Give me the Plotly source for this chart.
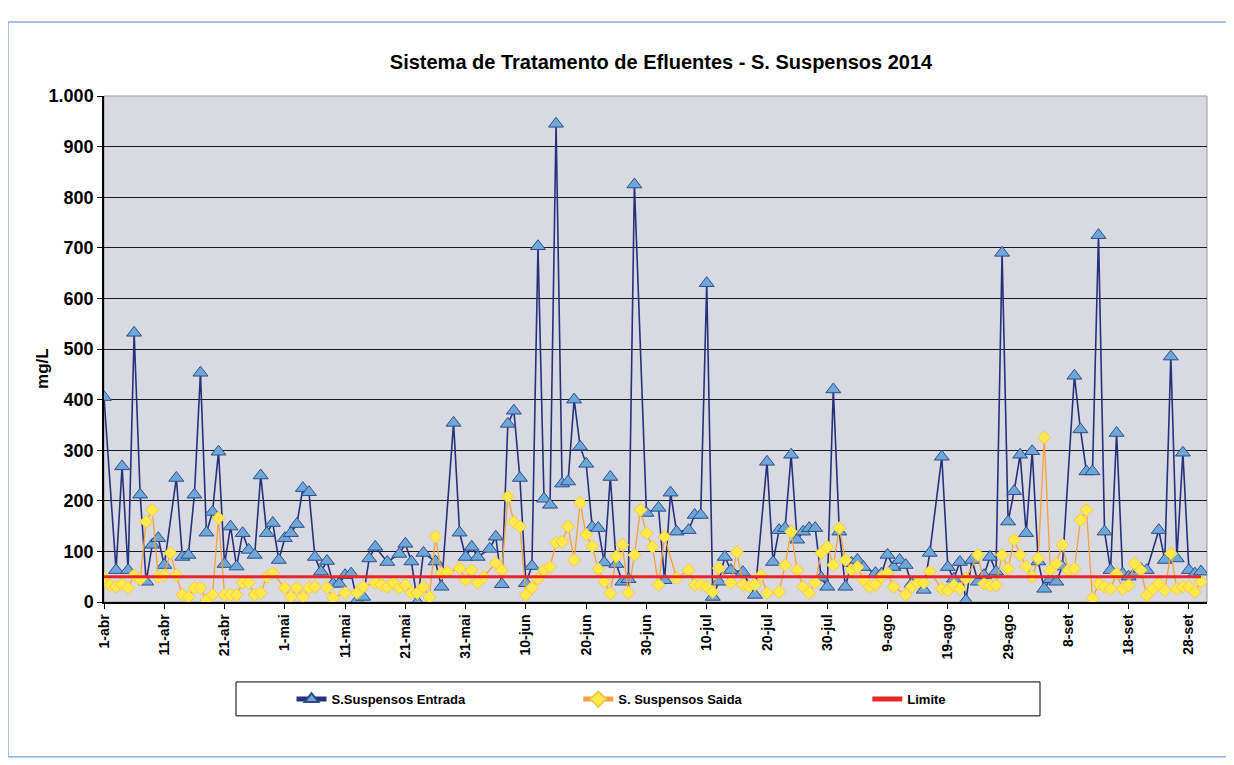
import datetime as dt
import plotly.graph_objects as go

inicio = dt.date(2014, 4, 1)

# S. Suspensos Entrada (mg/L) - dia = dias desde 1-abr
dia_entrada = [0, 2, 3, 4, 5, 6, 7, 8, 9, 10, 12, 13, 14, 15, 16, 17, 18, 19, 20, 21,
               22, 23, 24, 25, 26, 27, 28, 29, 30, 31, 32, 33, 34, 35, 36, 37, 38, 39, 40, 41,
               42, 43, 44, 45, 47, 49, 50, 51, 52, 53, 55, 56, 58, 59, 60, 61, 62, 64, 65, 66,
               67, 68, 69, 70, 71, 72, 73, 74, 75, 76, 77, 78, 79, 80, 81, 82, 83, 84, 85, 86,
               87, 88, 90, 92, 93, 94, 95, 97, 98, 99, 100, 101, 102, 103, 104, 106, 108, 110, 111, 112,
               113, 114, 115, 116, 117, 118, 119, 120, 121, 122, 123, 124, 125, 126, 128, 129, 130, 131, 132, 133,
               134, 135, 136, 137, 139, 140, 141, 142, 143, 144, 145, 146, 147, 148, 149, 150, 151, 152, 153, 154,
               155, 156, 157, 158, 159, 161, 162, 163, 164, 165, 166, 167, 168, 169, 170, 171, 172, 173, 175, 176,
               177, 178, 179, 180, 181, 182]
entrada = [405, 63, 268, 63, 532, 212, 40, 113, 126, 73, 245, 89, 93, 212, 453, 137, 178, 297, 75, 149,
           70, 136, 103, 93, 250, 136, 156, 83, 126, 136, 154, 225, 217, 89, 60, 81, 36, 36, 53, 56,
           3, 10, 86, 109, 79, 95, 115, 80, 0, 97, 80, 30, 354, 137, 89, 109, 89, 105, 129, 35,
           352, 378, 245, 37, 71, 703, 204, 192, 945, 234, 238, 400, 307, 273, 148, 146, 78, 247, 75, 40,
           45, 825, 176, 186, 43, 216, 139, 142, 172, 172, 630, 10, 40, 89, 63, 59, 14, 277, 79, 142,
           146, 291, 123, 139, 146, 146, 48, 30, 420, 139, 30, 77, 83, 69, 57, 56, 93, 69, 83, 73,
           36, 38, 24, 97, 287, 69, 46, 79, 3, 83, 40, 53, 89, 60, 690, 159, 219, 291, 136, 298,
           80, 26, 45, 40, 70, 447, 341, 258, 258, 725, 139, 63, 334, 56, 50, 56, 66, 63, 142, 83,
           485, 86, 295, 63, 56, 60]

# S. Suspensos Saida (mg/L)
dia_saida = [0, 1, 2, 3, 4, 5, 6, 7, 8, 9, 10, 11, 12, 13, 14, 15, 16, 17, 18, 19,
             20, 21, 22, 23, 24, 25, 26, 27, 28, 30, 31, 32, 33, 34, 35, 37, 38, 40, 42, 43,
             45, 46, 47, 48, 49, 50, 51, 52, 53, 54, 55, 56, 57, 59, 60, 61, 62, 63, 65, 66,
             67, 68, 69, 70, 71, 72, 73, 74, 75, 76, 77, 78, 79, 80, 81, 82, 83, 84, 85, 86,
             87, 88, 89, 90, 91, 92, 93, 95, 97, 98, 99, 100, 101, 102, 104, 105, 106, 107, 108, 109,
             110, 112, 113, 114, 115, 116, 117, 118, 119, 120, 121, 122, 123, 124, 125, 126, 127, 128, 129, 130,
             131, 133, 134, 135, 136, 137, 139, 140, 141, 142, 143, 145, 146, 147, 148, 149, 150, 151, 152, 153,
             154, 155, 156, 157, 158, 159, 160, 161, 162, 163, 164, 165, 166, 167, 168, 169, 170, 171, 172, 173,
             174, 175, 176, 177, 178, 179, 180, 181, 182]
saida = [47, 33, 30, 35, 28, 53, 45, 159, 182, 50, 53, 97, 53, 14, 10, 28, 28, 4, 14, 166,
         14, 14, 14, 38, 38, 14, 18, 50, 57, 28, 10, 28, 10, 28, 30, 28, 8, 18, 18, 30,
         38, 34, 30, 38, 28, 34, 18, 18, 30, 10, 129, 57, 59, 67, 44, 63, 38, 50, 77, 63,
         208, 158, 149, 14, 28, 46, 63, 69, 117, 119, 149, 83, 196, 133, 110, 65, 40, 17, 90, 113,
         18, 93, 182, 136, 109, 34, 129, 47, 63, 34, 34, 30, 20, 67, 38, 99, 34, 30, 34, 53,
         18, 20, 73, 139, 63, 30, 18, 38, 97, 109, 73, 146, 83, 63, 69, 44, 30, 34, 50, 57,
         30, 14, 30, 38, 38, 60, 26, 23, 33, 26, 46, 93, 36, 33, 33, 93, 66, 123, 93, 70,
         50, 86, 325, 63, 76, 113, 63, 66, 162, 182, 7, 36, 30, 26, 56, 26, 33, 76, 63, 13,
         26, 36, 23, 96, 26, 30, 30, 20, 40]

# Limite (mg/L)
dia_limite = list(range(0, 183))
limite = [50] * len(dia_limite)

tick_dias = [0, 10, 20, 30, 40, 50, 60, 70, 80, 90, 100, 110, 120, 130, 140, 150, 160, 170, 180]
tick_texto = ["1-abr", "11-abr", "21-abr", "1-mai", "11-mai", "21-mai", "31-mai", "10-jun",
              "20-jun", "30-jun", "10-jul", "20-jul", "30-jul", "9-ago", "19-ago", "29-ago",
              "8-set", "18-set", "28-set"]


def datas(dias):
    return [inicio + dt.timedelta(days=d) for d in dias]


fonte = "Arial, Liberation Sans, sans-serif"

fig = go.Figure()
fig.add_trace(go.Scatter(
    x=datas(dia_entrada), y=entrada, name="<b>S.Suspensos Entrada</b>",
    mode="lines+markers", legend="legend",
    line=dict(color="#27307a", width=1.6),
    marker=dict(symbol="triangle-up", size=13, color="#6fa8d8",
                line=dict(color="#2b4d8c", width=1)),
))
fig.add_trace(go.Scatter(
    x=datas(dia_saida), y=saida, name="<b>S. Suspensos Saida</b>",
    mode="lines+markers", legend="legend2",
    line=dict(color="#f6a13a", width=1.3),
    marker=dict(symbol="diamond", size=10, color="#ffe84a",
                line=dict(color="#f2c94c", width=1)),
))
fig.add_trace(go.Scatter(
    x=datas(dia_limite), y=limite, name="<b>Limite</b>",
    mode="lines", legend="legend3",
    line=dict(color="#e8262a", width=3),
))

leg = dict(orientation="h", xanchor="left", y=-0.192, yanchor="middle",
           bgcolor="rgba(0,0,0,0)", borderwidth=0, visible=True,
           font=dict(size=13, family=fonte), itemsizing="constant")

fig.update_layout(
    width=1234, height=765,
    margin=dict(l=96, r=35, t=88, b=171),
    paper_bgcolor="white",
    plot_bgcolor="#d9d9e1",
    separators=",.",
    showlegend=True,
    font=dict(family=fonte, color="black", size=12),
    title=dict(text="<b>Sistema de Tratamento de Efluentes - S. Suspensos 2014</b>",
               xref="paper", x=0.505, xanchor="center", y=1 - 54 / 765, yanchor="middle",
               font=dict(size=20, family=fonte)),
    legend=dict(leg, x=0.170),
    legend2=dict(leg, x=0.430),
    legend3=dict(leg, x=0.692),
    annotations=[
        dict(text="<b>mg/L</b>", xref="paper", yref="paper", x=-0.066, y=0.462,
             textangle=-90, showarrow=False, font=dict(size=17, family=fonte)),
    ],
    shapes=[
        dict(type="rect", xref="paper", yref="paper",
             x0=-0.087, x1=1.019, y0=-0.306, y1=1.146,
             line=dict(color="#8fb0e0", width=1.5), layer="below"),
        dict(type="rect", xref="paper", yref="paper",
             x0=0, x1=1, y0=0, y1=1,
             line=dict(color="#9a9a9a", width=1), layer="below"),
        dict(type="rect", xref="paper", yref="paper",
             x0=0.1197, x1=0.8486, y0=-0.225, y1=-0.158,
             line=dict(color="black", width=1), fillcolor="white", layer="below"),
    ],
)
fig.update_xaxes(
    range=[inicio - dt.timedelta(hours=12), inicio + dt.timedelta(days=183, hours=4)],
    tickvals=datas(tick_dias), ticktext=["<b>%s</b>" % t for t in tick_texto],
    tickangle=-90, tickfont=dict(size=14, family=fonte),
    showgrid=False, zeroline=False,
    showline=True, linecolor="black", linewidth=1.5,
    ticks="outside", ticklen=5, tickcolor="black",
)
fig.update_yaxes(
    range=[0, 1000], dtick=100, tickformat=",d",
    tickprefix="<b>", ticksuffix="</b>",
    tickfont=dict(size=18, family=fonte),
    showgrid=True, gridcolor="#1a1a1a", gridwidth=1.2,
    zeroline=False, showline=True, linecolor="black", linewidth=1.5,
    ticks="outside", ticklen=5, tickcolor="black",
)

fig.write_html("out.html")
